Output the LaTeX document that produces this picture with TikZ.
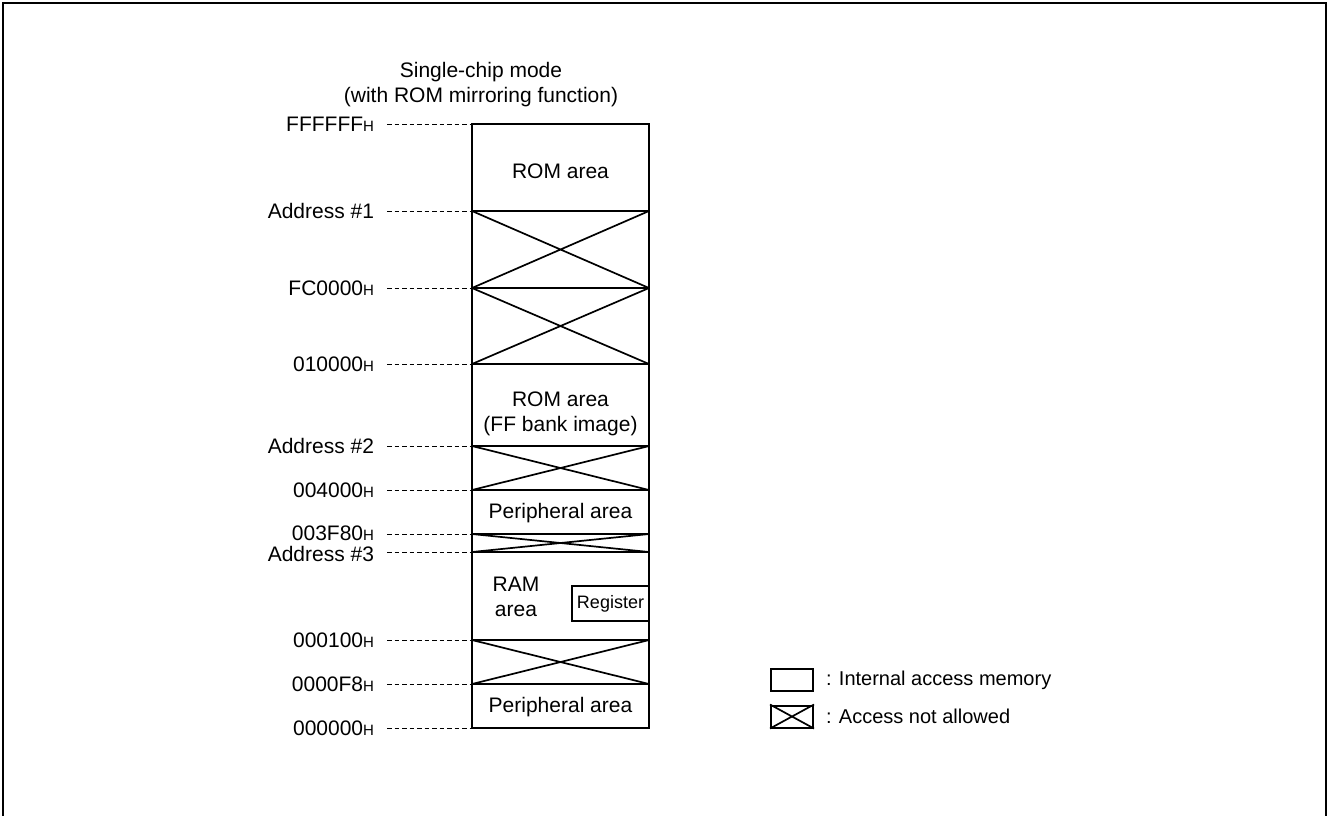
\documentclass[tikz,border=0pt]{standalone}
\usepackage{fontspec}
\setmainfont{Liberation Sans}
\usetikzlibrary{positioning}

\newcommand{\hexa}[1]{#1{\fontsize{15}{15}\selectfont H}}

\tikzset{
  adrlabel/.style={anchor=east, inner sep=0pt, text height=15pt, text depth=0pt,
                   font=\fontsize{21}{21}\selectfont},
  lead/.style={line width=0.7pt, dash pattern=on 4.5pt off 3pt},
  areatext/.style={align=center, inner sep=0pt, font=\fontsize{21}{25}\selectfont},
  legbox/.style={draw, minimum width=42pt, minimum height=22pt, inner sep=0pt},
}

\begin{document}
\begin{tikzpicture}[x=1pt, y=-1pt, line width=2pt]

    \useasboundingbox (0,0) rectangle (1329,815);

    % frame, open at the bottom
    \draw (3,816) -- (3,3) -- (1326,3) -- (1326,816);

    \def\xl{472}
    \def\xr{649}

    % line y / name / label y / label
    \foreach \y/\nm/\ly/\txt in {124/a/124/\hexa{FFFFFF}, 211/b/211/Address \#1, 288/c/288/\hexa{FC0000},
        364/d/364/\hexa{010000}, 446/e/446/Address \#2, 490/f/490/\hexa{004000}, 534/g/532.5/\hexa{003F80},
        552/h/553.5/Address \#3, 640/i/640/\hexa{000100}, 684/j/684/\hexa{0000F8}, 728/k/728/\hexa{000000}} {
      \coordinate (\nm) at (\xl,\y);
      \coordinate (\nm r) at (\xr,\y);
      \coordinate (\nm d) at (387,\y);
      \node[adrlabel] (\nm l) at (375,\ly) {\txt};
      \draw[lead] (\nm d) -- (\nm);
      \draw (\nm) -- (\nm r);
    }

    \draw[line width=2.4pt] (a) rectangle (kr);

    % access not allowed
    \foreach \p/\q in {b/c, c/d, e/f, g/h, i/j} {
      \draw[line width=1.7pt] (\p) -- (\q r) (\p r) -- (\q);
    }

    \node[areatext] (title) at (481,85) {Single-chip mode\\(with ROM mirroring function)};

    \node[areatext] (rom1) at (560.5,171) {ROM area};
    \node[areatext] (rom2) at (560.5,414) {ROM area\\(FF bank image)};
    \node[areatext] (per1) at (560.5,513) {Peripheral area};
    \node[areatext] (ram) at (516,597) {RAM\\area};
    \node[draw, inner sep=0pt, minimum width=77pt, minimum height=35pt,
          font=\fontsize{18}{18}\selectfont] (reg) at (610.5,603.5) {Register};
    \node[areatext] (per2) at (560.5,707) {Peripheral area};

    % legend
    \node[legbox] (leg1) at (792,680) {};
    \node[legbox] (leg2) at (792,716.5) {};
    \draw[line width=1.7pt] (leg2.north west) -- (leg2.south east) (leg2.south west) -- (leg2.north east);
    \node[right=11pt of leg1, inner sep=0pt, font=\fontsize{20}{20}\selectfont] (legt1) {: Internal access memory};
    \node[right=11pt of leg2, inner sep=0pt, font=\fontsize{20}{20}\selectfont] (legt2) {: Access not allowed};

\end{tikzpicture}
\end{document}
